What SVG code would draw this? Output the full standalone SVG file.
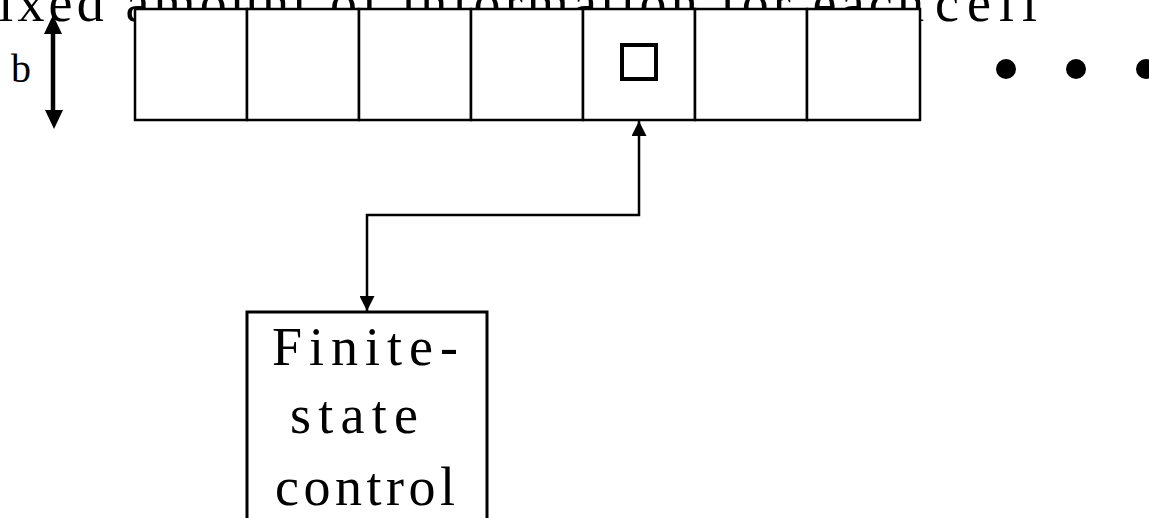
<svg xmlns="http://www.w3.org/2000/svg" width="1149" height="518" viewBox="0 0 1149 518">
  <style>
    .txt { font-family: "Liberation Serif", "Times New Roman", serif; font-size: 54px; fill: #000; }
    .cell { fill: #fff; stroke: #000; stroke-width: 2.5; }
    .wire { fill: none; stroke: #000; stroke-width: 2.5; }
  </style>
  <defs>
    <marker id="head" viewBox="0 0 15 15" refX="15" refY="7.5" markerWidth="15" markerHeight="15" markerUnits="userSpaceOnUse" orient="auto-start-reverse">
      <path d="M0,0 L15,7.5 L0,15 Z" fill="#000"/>
    </marker>
  </defs>

  <!-- caption behind the tape -->
  <g id="caption">
    <text class="txt" x="-36" y="21" textLength="960" lengthAdjust="spacing">Fixed amount of information for each</text>
    <text class="txt" x="935" y="21" textLength="102" lengthAdjust="spacing">cell</text>
  </g>

  <!-- tape of cells -->
  <g id="tape">
    <rect class="cell" x="135" y="9" width="112" height="111"/>
    <rect class="cell" x="247" y="9" width="112" height="111"/>
    <rect class="cell" x="359" y="9" width="112" height="111"/>
    <rect class="cell" x="471" y="9" width="112" height="111"/>
    <rect class="cell" x="583" y="9" width="112" height="111"/>
    <rect class="cell" x="695" y="9" width="112" height="111"/>
    <rect class="cell" x="807" y="9" width="113" height="111"/>
    <rect x="622" y="45" width="34" height="34" fill="none" stroke="#000" stroke-width="4"/>
  </g>

  <!-- continuation dots -->
  <g id="ellipsis" fill="#000">
    <circle cx="1006" cy="69" r="10"/>
    <circle cx="1076" cy="69" r="10"/>
    <circle cx="1146" cy="69" r="10"/>
  </g>

  <!-- cell height dimension -->
  <g id="dimension">
    <line x1="53" y1="30" x2="53" y2="112" stroke="#000" stroke-width="4.5"/>
    <path d="M53,15 L44,34 L62,34 Z" fill="#000"/>
    <path d="M54,129 L45,110 L63,110 Z" fill="#000"/>
    <text class="txt" style="font-size:40px" x="11" y="82">b</text>
  </g>

  <!-- finite-state control -->
  <g id="control">
    <rect x="247" y="312" width="240" height="230" fill="#fff" stroke="#000" stroke-width="3"/>
    <text class="txt" x="272" y="365" textLength="186" lengthAdjust="spacing">Finite-</text>
    <text class="txt" x="290" y="433" textLength="128" lengthAdjust="spacing">state</text>
    <text class="txt" x="275" y="505" textLength="180" lengthAdjust="spacing">control</text>
  </g>

  <!-- head link between tape and control -->
  <g id="connectors">
    <path class="wire" d="M639,121 L639,215 L367,215 L367,311" marker-start="url(#head)" marker-end="url(#head)"/>
  </g>
</svg>
